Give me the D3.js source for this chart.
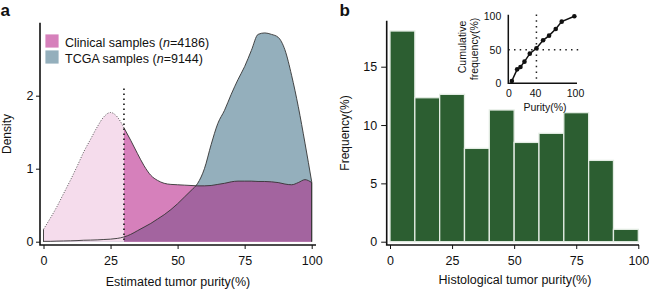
<!DOCTYPE html>
<html>
<head>
<meta charset="utf-8">
<script src="https://cdn.jsdelivr.net/npm/d3@7"></script>
<style>
body { margin: 0; background: #fff; }
svg text { font-family: "Liberation Sans", Arial, sans-serif; fill: #111; }
</style>
</head>
<body>
<svg id="fig" width="649" height="289"></svg>
<script>
// ---- panel a: density of estimated purity ----
var purity = [0, 2.5, 5, 7.5, 10, 12.5, 15, 17.5, 20, 22.5, 25, 27.5, 30, 32.5, 35, 37.5, 40, 42.5, 45, 47.5,
    50, 52.5, 55, 57.5, 60, 62.5, 65, 67.5, 70, 72.5, 75, 77.5, 80, 82.5, 85, 87.5, 90, 92.5, 95, 97.5, 100];
var clinicalDensity = [0.17, 0.32, 0.48, 0.66, 0.84, 1.03, 1.23, 1.40, 1.57, 1.71, 1.77, 1.71, 1.56, 1.39, 1.21, 1.04, 0.91, 0.84, 0.80, 0.785,
    0.78, 0.775, 0.77, 0.765, 0.765, 0.77, 0.785, 0.80, 0.82, 0.83, 0.83, 0.83, 0.825, 0.825, 0.82, 0.81, 0.79, 0.78, 0.81, 0.85, 0.81];
var tcgaDensity = [0.005, 0.005, 0.008, 0.01, 0.012, 0.015, 0.02, 0.022, 0.025, 0.03, 0.035, 0.045, 0.065, 0.10, 0.15, 0.20, 0.25, 0.31, 0.37, 0.44,
    0.52, 0.61, 0.70, 0.80, 1.00, 1.33, 1.62, 1.80, 2.02, 2.22, 2.40, 2.62, 2.84, 2.86, 2.84, 2.80, 2.63, 2.28, 1.85, 1.35, 0.82];
var cutoff = 30;
var densityTicks = [0, 1, 2];
var purityTicks = [0, 25, 50, 75, 100];
var legendLabels = [["Clinical samples (", "n", "=4186)"], ["TCGA samples (", "n", "=9144)"]];

// ---- panel b: histogram of histological purity ----
var binStart = [0, 10, 20, 30, 40, 50, 60, 70, 80, 90];
var frequency = [18.06, 12.34, 12.63, 8.0, 11.29, 8.51, 9.29, 11.06, 6.97, 1.06];
var freqTicks = [0, 5, 10, 15];

// inset: cumulative frequency
var cumPurity = [5, 13, 18, 24, 32, 42, 52, 61, 71, 80, 99];
var cumFreq = [3, 20.5, 24, 32, 44, 52, 64, 71, 81, 92, 100];
var insetTicks = [0, 40, 100];
var insetYTicks = [0, 50, 100];

var svg = d3.select("#fig");

var col = {
    clinical: "#d680bb",
    clinicalLight: "#f5dcec",
    tcga: "#94afbc",
    overlap: "#a3649f",
    bar: "#2c5e31"
};

function styleAxis(g, fs) {
    g.select(".domain").remove();
    g.selectAll(".tick line").attr("stroke", "#111").attr("stroke-width", 1);
    g.selectAll(".tick text").style("font-size", fs + "px").attr("fill", "#111");
}

// ================= panel a =================
var xA = d3.scaleLinear().domain([0, 100]).range([43.5, 311.7]);
var yA = d3.scaleLinear().domain([0, 3]).range([241.7, 22.7]);

var clin = purity.map(function (p, i) { return [p, clinicalDensity[i]]; });
var tcga = purity.map(function (p, i) { return [p, tcgaDensity[i]]; });
var clinLeft = clin.filter(function (d) { return d[0] <= cutoff; });
var clinRight = clin.filter(function (d) { return d[0] >= cutoff; });

var area = d3.area()
    .x(function (d) { return xA(d[0]); })
    .y0(yA(0))
    .y1(function (d) { return yA(d[1]); })
    .curve(d3.curveMonotoneX);
var line = d3.line()
    .x(function (d) { return xA(d[0]); })
    .y(function (d) { return yA(d[1]); })
    .curve(d3.curveMonotoneX);

var defs = svg.append("defs");
defs.append("clipPath").attr("id", "clinClip")
    .append("path").attr("d", area(clinRight));

var gA = svg.append("g");
gA.append("path").attr("d", area(tcga)).attr("fill", col.tcga);
gA.append("path").attr("d", area(clinLeft)).attr("fill", col.clinicalLight);
gA.append("path").attr("d", area(clinRight)).attr("fill", col.clinical);
gA.append("path").attr("d", area(tcga)).attr("fill", col.overlap).attr("clip-path", "url(#clinClip)");

// outlines
gA.append("path")
    .attr("d", "M" + xA(0) + "," + yA(0) + line(tcga).replace(/^M/, "L") + "L" + xA(100) + "," + yA(0))
    .attr("fill", "none").attr("stroke", "#333").attr("stroke-width", 0.9);
gA.append("path")
    .attr("d", line(clinRight) + "L" + xA(100) + "," + yA(0))
    .attr("fill", "none").attr("stroke", "#333").attr("stroke-width", 0.9);
gA.append("line")
    .attr("x1", xA(0)).attr("x2", xA(0)).attr("y1", yA(0)).attr("y2", yA(clinicalDensity[0]))
    .attr("stroke", "#333").attr("stroke-width", 0.9);
gA.append("path")
    .attr("d", line(clinLeft))
    .attr("fill", "none").attr("stroke", "#555").attr("stroke-width", 1)
    .attr("stroke-dasharray", "1,1.6");

// cutoff
gA.append("line")
    .attr("x1", xA(cutoff)).attr("x2", xA(cutoff))
    .attr("y1", yA(2.1)).attr("y2", yA(0))
    .attr("stroke", "#222").attr("stroke-width", 1.7)
    .attr("stroke-dasharray", "1.7,3.3");

// axes
svg.append("g").attr("transform", "translate(0,245)")
    .call(d3.axisBottom(xA).tickValues(purityTicks).tickSize(4).tickPadding(7.5))
    .call(styleAxis, 12.5);
svg.append("g").attr("transform", "translate(40,0)")
    .call(d3.axisLeft(yA).tickValues(densityTicks).tickFormat(d3.format("d")).tickSize(4).tickPadding(2.5))
    .call(styleAxis, 12.5);
svg.append("path").attr("d", "M40,22.7V245H316")
    .attr("fill", "none").attr("stroke", "#111").attr("stroke-width", 1.6);

svg.append("text").attr("x", 178).attr("y", 286).attr("text-anchor", "middle")
    .style("font-size", "12.5px").text("Estimated tumor purity(%)");
svg.append("text").attr("transform", "translate(11,134) rotate(-90)").attr("text-anchor", "middle")
    .style("font-size", "12px").text("Density");

// legend
var leg = svg.append("g");
[col.clinical, col.tcga].forEach(function (c, i) {
    leg.append("rect").attr("x", 45).attr("y", 34 + i * 16).attr("width", 14).attr("height", 14)
        .attr("fill", c).attr("stroke", "#fff").attr("stroke-width", 0.8);
    var t = leg.append("text").attr("x", 65).attr("y", 46.5 + i * 16).style("font-size", "12.5px");
    t.append("tspan").text(legendLabels[i][0]);
    t.append("tspan").style("font-style", "italic").text(legendLabels[i][1]);
    t.append("tspan").text(legendLabels[i][2]);
});

svg.append("text").attr("x", 0.5).attr("y", 15.5).style("font-size", "17px").style("font-weight", "bold").text("a");

// ================= panel b =================
var xB = d3.scaleLinear().domain([0, 100]).range([390, 638.3]);
var yB = d3.scaleLinear().domain([0, 15]).range([241.7, 66.7]);

svg.append("g").selectAll("rect").data(frequency).enter()
    .append("rect")
    .attr("x", function (d, i) { return xB(binStart[i]); })
    .attr("y", function (d) { return yB(d); })
    .attr("width", function (d, i) { return xB(binStart[i] + 10) - xB(binStart[i]); })
    .attr("height", function (d) { return yB(0) - yB(d); })
    .attr("fill", col.bar)
    .attr("stroke", "#e3ece3")
    .attr("stroke-width", 1.3);

svg.append("g").attr("transform", "translate(0,245)")
    .call(d3.axisBottom(xB).tickValues(purityTicks).tickSize(4).tickPadding(7.5))
    .call(styleAxis, 12.5);
svg.append("g").attr("transform", "translate(386.7,0)")
    .call(d3.axisLeft(yB).tickValues(freqTicks).tickSize(5.5).tickPadding(4))
    .call(styleAxis, 12.5);
svg.append("path").attr("d", "M386.7,20.7V245H639")
    .attr("fill", "none").attr("stroke", "#111").attr("stroke-width", 1.6);

svg.append("text").attr("x", 515).attr("y", 284).attr("text-anchor", "middle")
    .style("font-size", "12.5px").text("Histological tumor purity(%)");
svg.append("text").attr("transform", "translate(349,133) rotate(-90)").attr("text-anchor", "middle")
    .style("font-size", "12px").text("Frequency(%)");
svg.append("text").attr("x", 339.5).attr("y", 15.5).style("font-size", "17px").style("font-weight", "bold").text("b");

// ---- inset ----
var xI = d3.scaleLinear().domain([0, 100]).range([508.5, 575]);
var yI = d3.scaleLinear().domain([0, 100]).range([83, 16.3]);
var gI = svg.append("g");

gI.append("line")
    .attr("x1", 508.3).attr("x2", 580).attr("y1", yI(50)).attr("y2", yI(50))
    .attr("stroke", "#222").attr("stroke-width", 1.5).attr("stroke-dasharray", "1.5,4.2");
gI.append("line")
    .attr("x1", xI(cumPurity[5])).attr("x2", xI(cumPurity[5])).attr("y1", 14.5).attr("y2", yI(0))
    .attr("stroke", "#222").attr("stroke-width", 1.5).attr("stroke-dasharray", "1.5,4.2");

gI.append("g").attr("transform", "translate(0,83.3)")
    .call(d3.axisBottom(xI).tickValues(insetTicks).tickSize(0).tickPadding(6))
    .call(styleAxis, 10.5);
gI.append("g").attr("transform", "translate(508.3,0)")
    .call(d3.axisLeft(yI).tickValues(insetYTicks).tickSize(0).tickPadding(7))
    .call(styleAxis, 10.5);
gI.append("path").attr("d", "M508.3,14.7V83.3H577")
    .attr("fill", "none").attr("stroke", "#111").attr("stroke-width", 1.5);

var cum = cumPurity.map(function (p, i) { return [p, cumFreq[i]]; });
gI.append("path")
    .attr("d", d3.line().x(function (d) { return xI(d[0]); }).y(function (d) { return yI(d[1]); })(cum))
    .attr("fill", "none").attr("stroke", "#111").attr("stroke-width", 1.5);
gI.selectAll("circle").data(cum).enter().append("circle")
    .attr("cx", function (d) { return xI(d[0]); })
    .attr("cy", function (d) { return yI(d[1]); })
    .attr("r", 2.3).attr("fill", "#111");

gI.append("text").attr("x", 545).attr("y", 110.5).attr("text-anchor", "middle")
    .style("font-size", "10.5px").text("Purity(%)");
gI.append("text").attr("transform", "translate(466,47) rotate(-90)").attr("text-anchor", "middle")
    .style("font-size", "10.5px").text("Cumulative");
gI.append("text").attr("transform", "translate(478,49) rotate(-90)").attr("text-anchor", "middle")
    .style("font-size", "10.5px").text("frequency(%)");
</script>
</body>
</html>
